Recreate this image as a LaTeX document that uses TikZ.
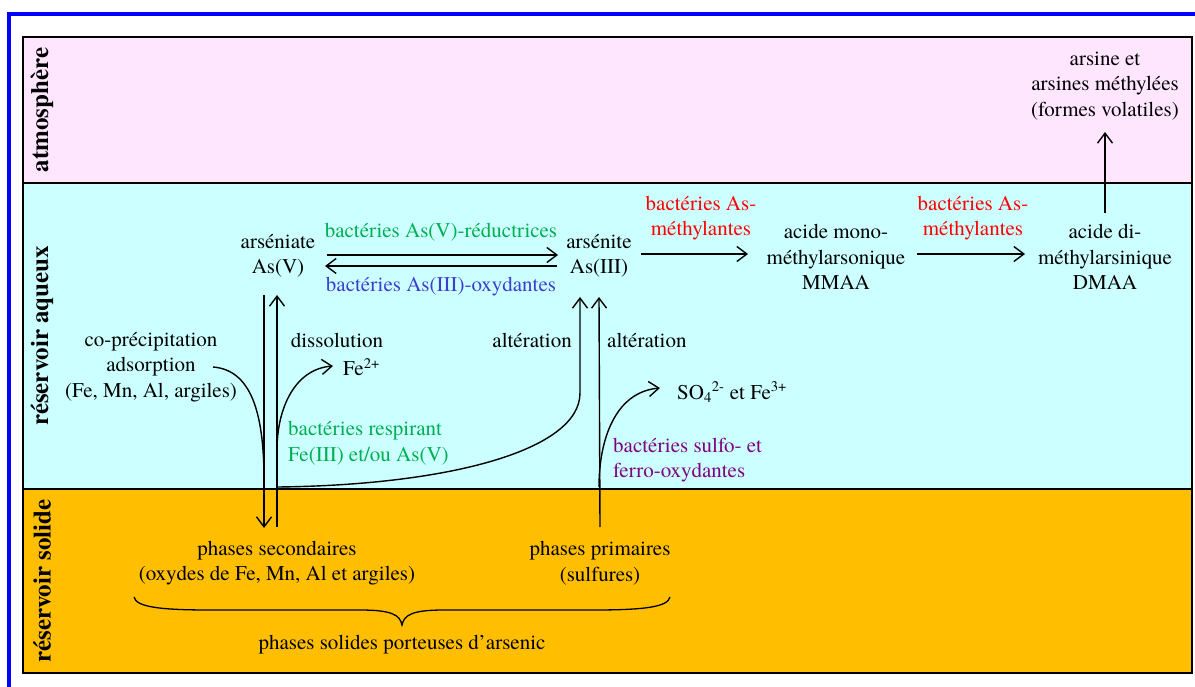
\documentclass[tikz,border=0pt]{standalone}
\usepackage{fontspec}
\setmainfont{texgyretermes-regular.otf}[BoldFont=texgyretermes-bold.otf]
\usetikzlibrary{arrows.meta,calc}
\definecolor{atmcol}{HTML}{FFE6FF}
\definecolor{aqcol}{HTML}{CCFFFF}
\definecolor{solcol}{HTML}{FFBF00}
\definecolor{grn}{RGB}{0,176,80}
\definecolor{blu}{RGB}{60,60,210}
\definecolor{prp}{RGB}{128,0,128}
\begin{document}
\begin{tikzpicture}[x=1pt,y=-1pt,
  txt/.style={font=\fontsize{21}{25.5}\selectfont, align=center, inner sep=0pt},
  band/.style={font=\fontsize{25}{28}\selectfont\bfseries, rotate=90, inner sep=0pt},
  arr/.style={line width=1.4pt, -{Straight Barb[length=10pt,width=15pt,line width=1.4pt]}},
  ln/.style={line width=1.4pt}]
\useasboundingbox (0,0) rectangle (1195,687);
\fill[white] (0,0) rectangle (1195,687);
% bands
\fill[atmcol] (23,37) rectangle (1192,183);
\fill[aqcol] (23,183) rectangle (1192,489);
\fill[solcol] (23,489) rectangle (1192,673);
\draw[line width=1.3pt] (23,37) rectangle (1192,673);
\draw[line width=1.3pt] (23,183) -- (1192,183) (23,489) -- (1192,489);
\draw[blue, line width=3.6pt] (9,700) -- (9,14) -- (1210,14);
% band labels
\node[band] (latm) at (42,110) {atmosphère};
\node[band] (laq) at (42,336) {réservoir aqueux};
\node[band] (lsol) at (42,581) {réservoir solide};
% species
\node[txt] (arsine) at (1105,86) {arsine et\\arsines méthylées\\(formes volatiles)};
\node[txt] (asv) at (278,256) {arséniate\\As(V)};
\node[txt] (asiii) at (599,256) {arsénite\\As(III)};
\node[txt] (mmaa) at (836,257) {acide mono-\\méthylarsonique\\MMAA};
\node[txt] (dmaa) at (1105,257) {acide di-\\méthylarsinique\\DMAA};
\node[txt, text=red] (red1) at (701,218) {bactéries As-\\méthylantes};
\node[txt, text=red] (red2) at (973,218) {bactéries As-\\méthylantes};
\node[txt, text=grn] (vred) at (441,232) {bactéries As(V)-réductrices};
\node[txt, text=blu] (iiiox) at (441,287) {bactéries As(III)-oxydantes};
\node[txt] (coprec) at (151,367) {co-précipitation\\adsorption\\(Fe, Mn, Al, argiles)};
\node[txt] (dissol) at (337,340) {dissolution};
\node[txt, anchor=west] (fe2) at (343,367) {Fe\textsuperscript{2+}};
\node[txt, text=grn, align=left, anchor=west] (resp) at (288,443) {bactéries respirant\\Fe(III) et/ou As(V)};
\node[txt, anchor=east] (alt1) at (572,340) {altération};
\node[txt, anchor=west] (alt2) at (607,340) {altération};
\node[txt, anchor=west] (so4) at (677,392) {SO\textsubscript{4}\textsuperscript{2-} et Fe\textsuperscript{3+}};
\node[txt, text=prp, align=left, anchor=west] (sulfo) at (613,460) {bactéries sulfo- et\\ferro-oxydantes};
\node[txt] (sec) at (277,563) {phases secondaires\\(oxydes de Fe, Mn, Al et argiles)};
\node[txt] (prim) at (600,563) {phases primaires\\(sulfures)};
\node[txt] (solides) at (402,645) {phases solides porteuses d’arsenic};
% redox arrows
\draw[arr] ($(asv.center)+(49,-1)$) -- ($(asiii.center)+(-41,-1)$);
\draw[arr] ($(asiii.center)+(-42,10)$) -- ($(asv.center)+(47,10)$);
% methylation arrows
\draw[arr] ($(asiii.center)+(42,-2)$) -- ($(mmaa.center)+(-88,-3)$);
\draw[arr] ($(mmaa.center)+(81,-3)$) -- ($(dmaa.center)+(-80,-3)$);
\draw[arr] ($(dmaa.center)+(0,-44)$) -- ($(arsine.center)+(0,46)$);
% vertical exchanges
\draw[arr] ($(asv.center)+(-14,39)$) -- ($(sec.center)+(-13,-35)$);
\draw[arr] ($(sec.center)+(0,-36)$) -- ($(asv.center)+(-1,39)$);
\draw[arr] ($(prim.center)+(0,-36)$) -- ($(asiii.center)+(0,41)$);
% junction points
\coordinate (j0) at ($(asv.center)+(-14,224)$);
\coordinate (j1) at ($(sec.center)+(0,-113)$);
\coordinate (j2) at ($(sec.center)+(1,-76)$);
\coordinate (j3) at ($(prim.center)+(-1,-76)$);
% curves
\draw[ln] ($(coprec.center)+(62,0)$) .. controls +(37,3) and +(0,-70) .. (j0);
\draw[arr] (j1) .. controls +(0,-42) and +(-38,3) .. ($(fe2.west)+(-10,-1)$);
\draw[arr] (j2) .. controls +(172,-2) and +(0,57) .. ($(asiii.center)+(-19,137)$) -- ($(asiii.center)+(-19,41)$);
\draw[arr] (j3) .. controls +(0,-47) and +(-45,4) .. ($(so4.west)+(-17,-4)$);
% brace
\draw[line width=1.3pt] (134,597) .. controls (136,607) and (160,610) .. (210,610) -- (360,610)
  .. controls (392,610) and (400,615) .. (402,625)
  .. controls (404,615) and (412,610) .. (444,610) -- (594,610)
  .. controls (644,610) and (668,607) .. (670,597);
\end{tikzpicture}
\end{document}
